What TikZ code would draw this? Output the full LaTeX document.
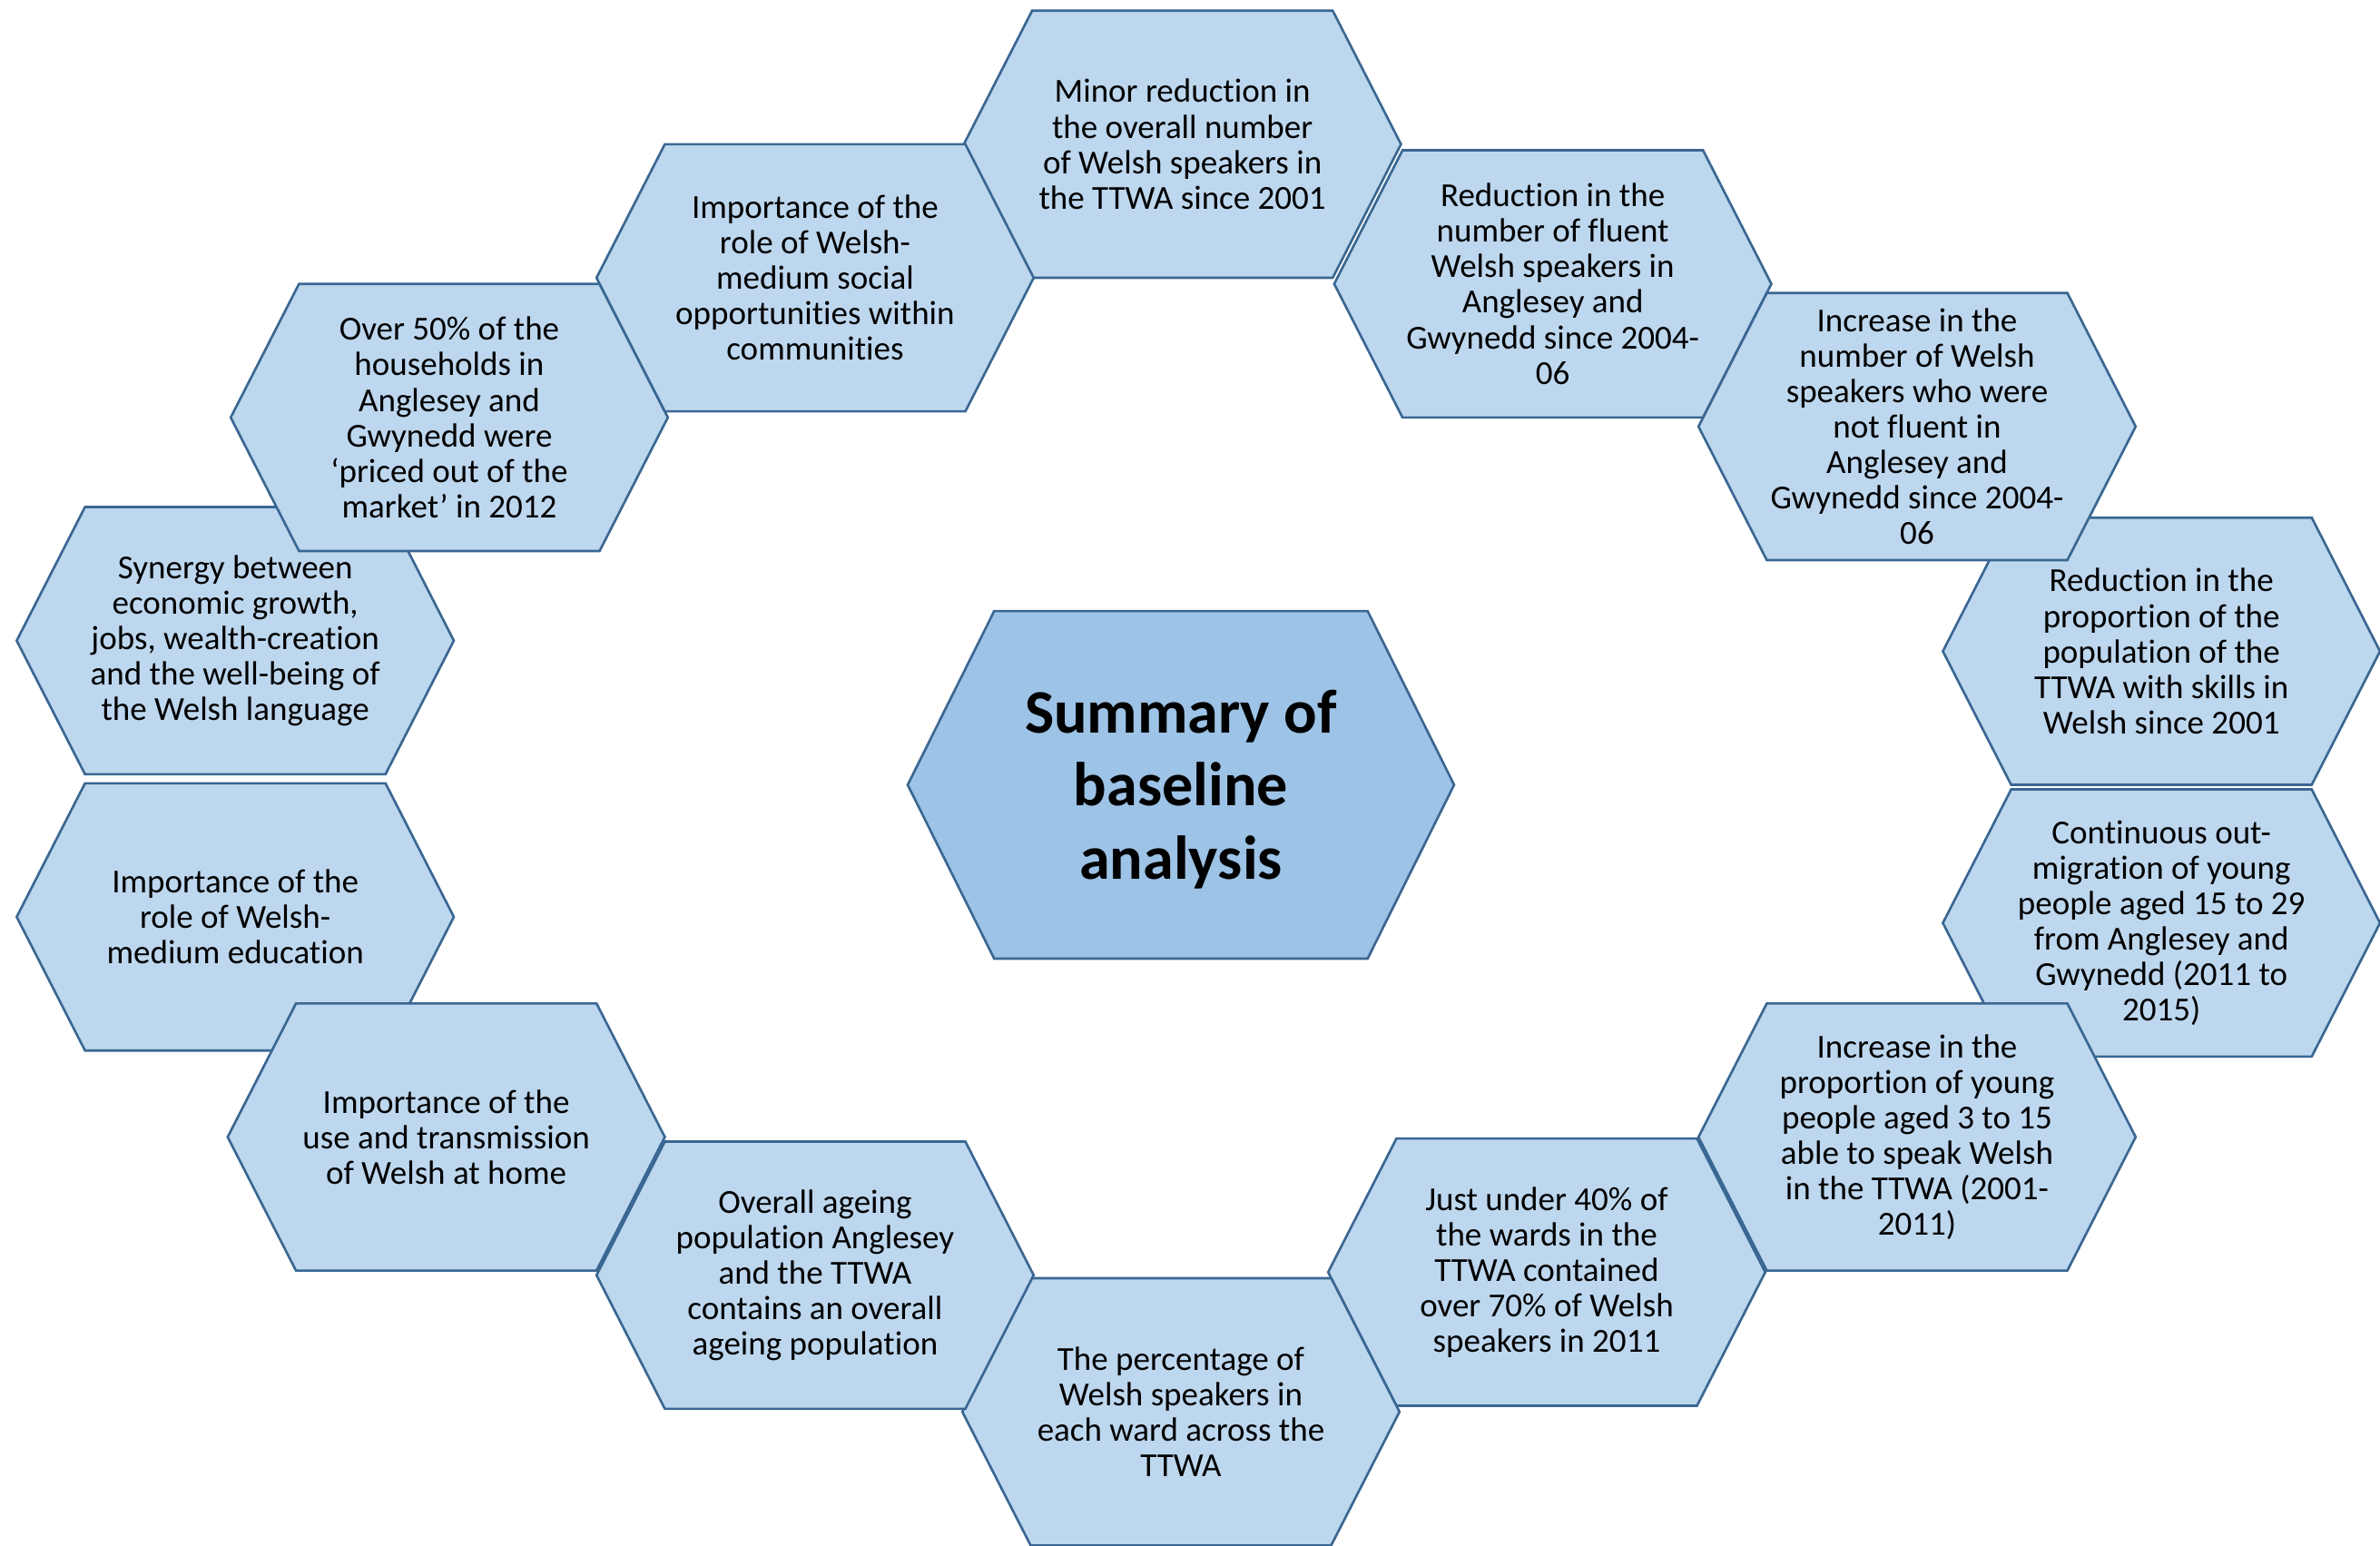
\documentclass[tikz,border=0pt]{standalone}
\usepackage{fontspec}
\setmainfont{Carlito}[Ligatures={TeX,NoCommon}]
\usepackage{tikz}
\definecolor{cellfill}{HTML}{BDD7EE}
\definecolor{hubfill}{HTML}{9DC3E6}
\definecolor{cellline}{HTML}{3A6792}
\newcommand*{\hexcell}[3]{%
  \filldraw[cell] (#2) ++(-144,0) -- ++(45,-88) -- ++(198,0) -- ++(45,88)
    -- ++(-45,88) -- ++(-198,0) -- cycle;
  \node[celltext] (#1) at (#2) {#3};}

\begin{document}
\begin{tikzpicture}[x=0.02cm,y=-0.02cm,
    cell/.style={fill=cellfill,draw=cellline,line width=0.9pt,line join=miter},
    hub/.style={cell,fill=hubfill},
    celltext/.style={align=center,font=\fontsize{12.6}{13.3}\selectfont},
    hubtext/.style={align=center,font=\fontsize{23.2}{27.3}\selectfont\bfseries}]
  \useasboundingbox (0,0) rectangle (1568,1018);
  \filldraw[hub] (778,517) ++(-180,0) -- ++(57,-114.5) -- ++(246,0) -- ++(57,114.5)
    -- ++(-57,114.5) -- ++(-246,0) -- cycle;
  \node[hubtext] (summary) at (778,520) {Summary of\\baseline\\analysis};
  \hexcell{overall}{779,95}{Minor reduction in\\the overall number\\of Welsh speakers in\\the TTWA since 2001}
  \hexcell{fluent}{1023,187}{Reduction in the\\number of fluent\\Welsh speakers in\\Anglesey and\\Gwynedd since 2004-\\06}
  \hexcell{skills}{1424,429}{Reduction in the\\proportion of the\\population of the\\TTWA with skills in\\Welsh since 2001}
  \hexcell{learners}{1263,281}{Increase in the\\number of Welsh\\speakers who were\\not fluent in\\Anglesey and\\Gwynedd since 2004-\\06}
  \hexcell{migration}{1424,608}{Continuous out-\\migration of young\\people aged 15 to 29\\from Anglesey and\\Gwynedd (2011 to\\2015)}
  \hexcell{young}{1263,749}{Increase in the\\proportion of young\\people aged 3 to 15\\able to speak Welsh\\in the TTWA (2001-\\2011)}
  \hexcell{wards}{1019,838}{Just under 40\% of\\the wards in the\\TTWA contained\\over 70\% of Welsh\\speakers in 2011}
  \hexcell{percentage}{778,930}{The percentage of\\Welsh speakers in\\each ward across the\\TTWA}
  \hexcell{ageing}{537,840}{Overall ageing\\population Anglesey\\and the TTWA\\contains an overall\\ageing population}
  \hexcell{education}{155,604}{Importance of the\\role of Welsh-\\medium education}
  \hexcell{home}{294,749}{Importance of the\\use and transmission\\of Welsh at home}
  \hexcell{synergy}{155,422}{Synergy between\\economic growth,\\jobs, wealth-creation\\and the well-being of\\the Welsh language}
  \hexcell{housing}{296,275}{Over 50\% of the\\households in\\Anglesey and\\Gwynedd were\\‘priced out of the\\market’ in 2012}
  \hexcell{social}{537,183}{Importance of the\\role of Welsh-\\medium social\\opportunities within\\communities}
\end{tikzpicture}
\end{document}
